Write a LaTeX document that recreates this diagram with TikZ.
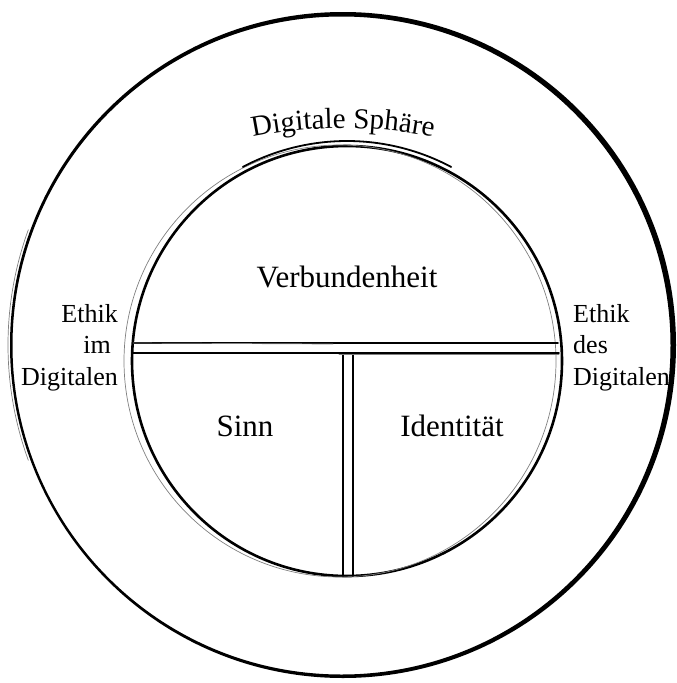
\documentclass[tikz,border=0pt]{standalone}
\usepackage{fontspec}
\setmainfont{Liberation Serif}
\usetikzlibrary{decorations.text}

\tikzset{
  brush/.style={black, line width=2.6pt, line cap=round},
  hair/.style={black!50, line width=0.7pt, line cap=round},
  inlabel/.style={font=\fontsize{31}{36}\selectfont, inner sep=0pt, anchor=base},
  leftlabel/.style={font=\fontsize{26}{31}\selectfont, inner sep=0pt, anchor=base east},
  rightlabel/.style={font=\fontsize{26}{31}\selectfont, inner sep=0pt, anchor=base west},
}

\begin{document}
\begin{tikzpicture}[x=1pt,y=-1pt]
                \useasboundingbox (0,0) rectangle (677,683);
                % Outer ring
                \fill [black, even odd rule] (343,345) circle (333) (341.5,345.5) circle (329);
                \draw [hair] (345,345) ++(160:337) arc (160:200:337);
                % Inner circle
                \draw [brush] (347,361) circle (215);
                \draw [hair] (340,361) circle (216);
                \draw [brush, line width=1.8pt] (347,363) ++(-118:222) arc (-118:-62:222);
                % Cross
                \coordinate (hla) at (133,343);
                \coordinate (hlb) at (558,343);
                \coordinate (hlc) at (132,353);
                \coordinate (hld) at (559,353);
                \coordinate (vla) at (343,353);
                \coordinate (vlb) at (343,576);
                \coordinate (vlc) at (353,353);
                \coordinate (vld) at (353,576);
                \draw [brush, line width=1.5pt] (hla) -- (hlb);
                \draw [brush, line width=1.5pt] (hlc) -- (hld);
                \draw [brush, line width=1.3pt] (vla) -- (vlb);
                \draw [brush, line width=1.5pt] (vlc) -- (vld);
                \draw [hair] (hla) -- ++(200,1);
                \draw [hair] ([yshift=-1pt]hld) -- ++(-220,0);
                % Labels
                \node [inlabel] (verbund) at (347,287) {Verbundenheit};
                \node [inlabel] (sinn) at (245,436) {Sinn};
                \node [inlabel] (ident) at (452,436) {Identität};
                \node [leftlabel] (imA) at (118,322) {Ethik};
                \node [leftlabel] (imB) at (111,353.5) {im};
                \node [leftlabel] (imC) at (118,385) {Digitalen};
                \node [rightlabel] (desA) at (573,322) {Ethik};
                \node [rightlabel] (desB) at (573,353.5) {des};
                \node [rightlabel] (desC) at (573,385) {Digitalen};
                % Sphere title
                \path [decorate, decoration={text along path, text align=center,
                  text={|\fontsize{29}{30}\selectfont|Digitale Sphäre}}]
                  (343,578) ++(-105:450) arc (-105:-75:450);
            \end{tikzpicture}
\end{document}
